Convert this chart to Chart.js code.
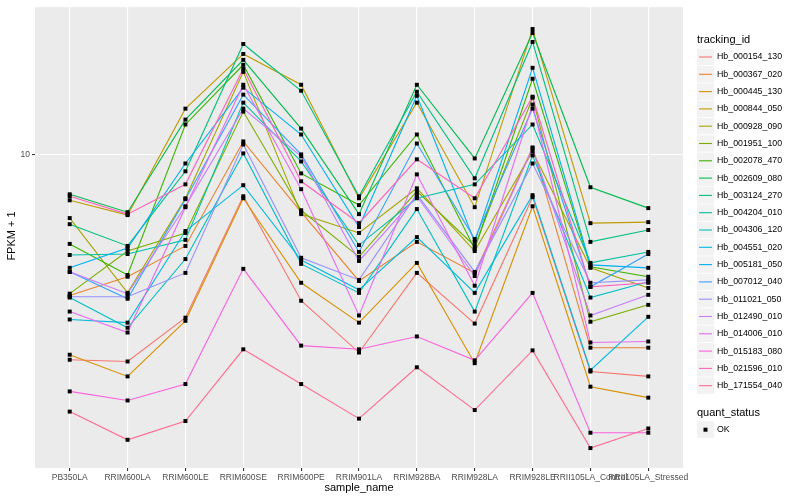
<!DOCTYPE html>
<html><head><meta charset="utf-8">
<script src="https://cdn.jsdelivr.net/npm/chart.js@4"></script>
<style>html,body{margin:0;padding:0;background:#fff}#wrap{width:800px;height:500px}</style>
</head><body><div id="wrap"><canvas id="c" width="800" height="500"></canvas></div>
<script>
const categories = ["PB350LA","RRIM600LA","RRIM600LE","RRIM600SE","RRIM600PE","RRIM901LA","RRIM928BA","RRIM928LA","RRIM928LE","RRII105LA_Control","RRII105LA_Stressed"];
const trackingIds = ["Hb_000154_130","Hb_000367_020","Hb_000445_130","Hb_000844_050","Hb_000928_090","Hb_001951_100","Hb_002078_470","Hb_002609_080","Hb_003124_270","Hb_004204_010","Hb_004306_120","Hb_004551_020","Hb_005181_050","Hb_007012_040","Hb_011021_050","Hb_012490_010","Hb_014006_010","Hb_015183_080","Hb_021596_010","Hb_171554_040"];
const seriesColors = ["#F8766D","#EA8331","#D89000","#C09B00","#A3A500","#7CAE00","#39B600","#00BB4E","#00BF7D","#00C1A3","#00BFC4","#00BAE0","#00B0F6","#35A2FF","#9590FF","#C77CFF","#E76BF3","#FA62DB","#FF62BC","#FF6C91"];
const yTicks = [10];
const yRange = [1.631, 23.44];

const hb000154_130 = [3.05, 3.02, 3.89, 7.85, 4.29, 3.18, 5.04, 3.76, 7.81, 2.85, 2.77];
const hb000367_020 = [4.42, 4.93, 5.89, 10.78, 7.16, 4.81, 6.03, 5.04, 10.41, 3.27, 3.27];
const hb000445_130 = [3.14, 2.77, 3.82, 7.76, 4.76, 3.78, 5.34, 2.99, 7.41, 2.61, 2.45];
const hb000844_050 = [7.67, 7.04, 13.03, 17.88, 14.96, 7.76, 13.49, 7.37, 20.65, 6.72, 6.76];
const hb000928_090 = [6.92, 4.49, 7.76, 16.12, 7.08, 6.35, 8.22, 5.72, 10.17, 5.19, 4.62];
const hb001951_100 = [4.47, 5.72, 6.35, 12.81, 7.24, 5.53, 8.08, 5.89, 13.88, 3.80, 4.19];
const hb002078_470 = [5.96, 4.98, 11.89, 16.79, 8.96, 7.46, 11.22, 5.79, 15.49, 5.22, 4.93];
const hb002609_080 = [7.94, 7.16, 12.23, 17.28, 11.61, 7.08, 14.96, 9.77, 20.18, 8.27, 7.33];
const hb003124_270 = [6.68, 5.89, 9.07, 18.94, 14.45, 7.85, 14.37, 8.71, 19.16, 6.03, 6.46];
const hb004204_010 = [5.59, 5.62, 6.10, 13.49, 9.60, 5.92, 7.76, 8.41, 11.89, 5.34, 5.69];
const hb004306_120 = [4.37, 3.67, 5.46, 10.06, 5.31, 4.49, 7.29, 4.03, 9.94, 4.37, 4.79];
const hb004551_020 = [3.85, 3.78, 6.42, 8.37, 5.43, 4.57, 6.20, 4.49, 7.90, 2.87, 3.91];
const hb005181_050 = [5.19, 5.82, 9.49, 14.71, 11.22, 6.57, 14.04, 6.03, 16.50, 5.28, 5.19];
const hb007012_040 = [5.07, 4.34, 7.72, 14.13, 10.00, 5.69, 10.65, 6.13, 13.03, 4.65, 5.62];
const hb011021_050 = [4.39, 4.39, 5.04, 10.59, 5.50, 4.84, 7.94, 5.07, 9.49, 4.76, 4.84];
const hb012490_010 = [5.07, 4.47, 7.41, 13.03, 9.89, 5.40, 7.85, 4.95, 10.35, 3.94, 4.44];
const hb014006_010 = [4.03, 3.57, 7.37, 14.96, 8.18, 3.94, 8.91, 4.68, 13.34, 3.37, 3.39];
const hb015183_080 = [2.54, 2.41, 2.65, 5.16, 3.31, 3.24, 3.49, 3.04, 4.49, 2.00, 2.00];
const hb021596_010 = [7.85, 7.08, 8.41, 16.41, 8.56, 6.72, 9.72, 7.76, 13.96, 4.65, 4.76];
const hb171554_040 = [2.26, 1.92, 2.14, 3.24, 2.65, 2.17, 2.92, 2.28, 3.22, 1.83, 2.05];

const seriesValues = [hb000154_130, hb000367_020, hb000445_130, hb000844_050, hb000928_090, hb001951_100, hb002078_470, hb002609_080, hb003124_270, hb004204_010, hb004306_120, hb004551_020, hb005181_050, hb007012_040, hb011021_050, hb012490_010, hb014006_010, hb015183_080, hb021596_010, hb171554_040];

const FONT = "'Liberation Sans', Arial, sans-serif";

const lineSets = seriesValues.map((vals, k) => ({
  type: 'line',
  label: trackingIds[k],
  data: vals.map((v, i) => ({x: i, y: v})),
  borderColor: seriesColors[k],
  backgroundColor: seriesColors[k],
  borderWidth: 1.1,
  pointRadius: 0,
  fill: false,
  tension: 0,
  order: 20 - k
}));
const pointSet = {
  type: 'scatter',
  label: 'OK',
  data: seriesValues.flatMap(vals => vals.map((v, i) => ({x: i, y: v}))),
  pointStyle: 'rect',
  pointRadius: 2.8,
  backgroundColor: '#000000',
  borderWidth: 0,
  order: -1
};

const decor = {
  id: 'decor',
  beforeDraw(chart) {
    const {ctx, chartArea: a} = chart;
    ctx.save();
    ctx.fillStyle = '#EBEBEB';
    ctx.fillRect(a.left, a.top, a.right - a.left, a.bottom - a.top);
    ctx.restore();
  },
  afterDraw(chart) {
    const ctx = chart.ctx;
    ctx.save();
    ctx.fillStyle = '#000000';
    ctx.font = '11px ' + FONT;
    ctx.textBaseline = 'middle';
    ctx.textAlign = 'center';
    ctx.fillText('sample_name', 359, 488);
    ctx.save();
    ctx.translate(12, 236);
    ctx.rotate(-Math.PI / 2);
    ctx.fillText('FPKM + 1', 0, 0);
    ctx.restore();
    ctx.textAlign = 'left';
    ctx.fillText('tracking_id', 697, 40);
    const step = 17.3;
    for (let i = 0; i < trackingIds.length; i++) {
      const cy = 57 + i * step;
      ctx.fillStyle = '#F2F2F2';
      ctx.fillRect(697, cy - 8.2, 17, 16.4);
      ctx.strokeStyle = seriesColors[i];
      ctx.lineWidth = 1.1;
      ctx.beginPath();
      ctx.moveTo(699, cy);
      ctx.lineTo(712, cy);
      ctx.stroke();
      ctx.fillStyle = '#000000';
      ctx.font = '8.8px ' + FONT;
      ctx.fillText(trackingIds[i], 717, cy);
    }
    ctx.font = '11px ' + FONT;
    ctx.fillStyle = '#000000';
    ctx.fillText('quant_status', 697, 413);
    ctx.fillStyle = '#F2F2F2';
    ctx.fillRect(697, 421.5, 17, 16.4);
    ctx.fillStyle = '#000000';
    ctx.fillRect(703.5, 427.7, 4, 4);
    ctx.font = '8.8px ' + FONT;
    ctx.fillText('OK', 717, 430);
    ctx.restore();
  }
};

new Chart(document.getElementById('c'), {
  data: { datasets: [...lineSets, pointSet] },
  options: {
    responsive: false,
    animation: false,
    devicePixelRatio: 1,
    layout: { padding: { top: 5, right: 117, bottom: 0, left: 0 } },
    plugins: { legend: { display: false }, tooltip: { enabled: false } },
    scales: {
      x: {
        type: 'linear',
        min: -0.6,
        max: 10.6,
        afterBuildTicks: s => { s.ticks = categories.map((_, i) => ({value: i})); },
        afterFit: s => { s.height = 32; },
        grid: { color: '#FFFFFF', lineWidth: 1.1, tickColor: '#333333', tickLength: 3, drawTicks: true },
        border: { display: false },
        ticks: { autoSkip: false, maxRotation: 0, minRotation: 0, padding: 2, color: '#4D4D4D',
          font: { family: FONT, size: 8.5 }, callback: v => categories[v] }
      },
      y: {
        type: 'logarithmic',
        min: yRange[0],
        max: yRange[1],
        afterBuildTicks: s => { s.ticks = yTicks.map(v => ({value: v})); },
        afterFit: s => { s.width = 35; },
        grid: { color: '#FFFFFF', lineWidth: 1.1, tickColor: '#333333', tickLength: 3, drawTicks: true },
        border: { display: false },
        ticks: { padding: 2, color: '#4D4D4D', font: { family: FONT, size: 8.5 }, callback: v => String(v) }
      }
    }
  },
  plugins: [decor]
});
</script>
</body></html>
